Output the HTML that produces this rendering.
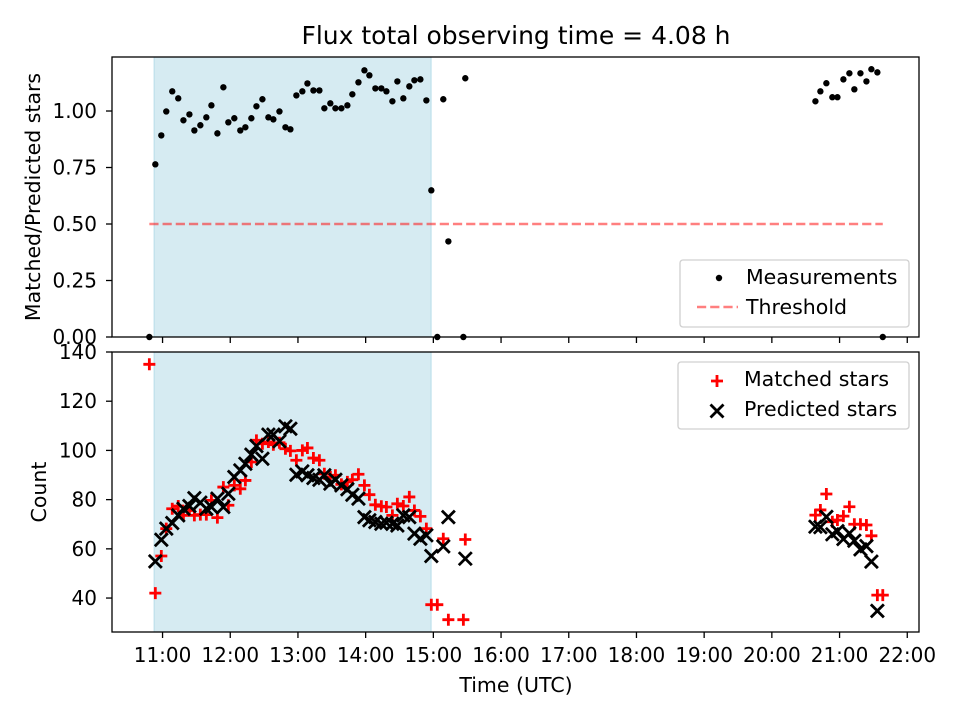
<!DOCTYPE html>
<html><head><meta charset="utf-8"><style>
body{margin:0;background:#fff}
svg{display:block;font-family:"DejaVu Sans","Liberation Sans",sans-serif}
</style></head><body>
<svg id="c" width="960" height="720" viewBox="0 0 960 720">
<rect width="960" height="720" fill="#fff"/>
<text x="516" y="44" font-size="25" text-anchor="middle">Flux total observing time = 4.08 h</text>
<g id="topPanel"></g>
<g id="botPanel"></g>
<text x="516" y="692" font-size="20.5" text-anchor="middle">Time (UTC)</text>
<text transform="translate(40,197) rotate(-90)" font-size="20.5" text-anchor="middle">Matched/Predicted stars</text>
<text transform="translate(46,492) rotate(-90)" font-size="20.5" text-anchor="middle">Count</text>
</svg>
<script>
// times in minutes since 10:00 UTC
const times=[48.3,53.6,58.9,63.3,68.6,73.9,78.5,83.8,88.2,93.5,98.8,103.3,108.6,113.9,118.3,123.6,128.9,133.4,138.7,143.2,148.5,153.8,158.2,163.6,168.9,173.3,178.6,183.9,188.4,193.7,199,203.4,208.7,213.2,218.5,223.8,228.2,233.6,238.9,243.3,248.6,253.9,258.4,263.7,268.1,273.4,278.7,283.2,288.5,293.8,298.2,303.5,308.8,313.3,326.6,328.3,
638.6,643,648.3,653.6,658.1,663.4,668.7,673.1,678.5,683.8,688.2,693.5,698.3];
const ratio=[0,0.764,0.892,0.998,1.087,1.056,0.959,0.985,0.914,0.937,0.972,1.025,0.901,1.105,0.950,0.968,0.914,0.928,0.968,1.021,1.052,0.972,0.963,0.998,0.928,0.919,1.069,1.087,1.122,1.091,1.091,1.012,1.034,1.012,1.012,1.025,1.074,1.127,1.180,1.158,1.100,1.100,1.087,1.043,1.131,1.056,1.109,1.136,1.140,1.047,0.649,0,1.052,0.423,0,1.145,
1.043,1.087,1.123,1.061,1.061,1.140,1.167,1.096,1.167,1.131,1.185,1.171,0];
const matched=[135,42,57.1,68.2,76.3,77.4,73.6,75.6,73.6,73.9,73.9,79.7,72.7,85.1,77.7,85.8,84.4,87.8,95.3,104.1,102.7,103.4,102.3,103.1,100.7,99.8,96,100,101,96.9,96,90.5,89.2,89.9,86.2,87.2,88.1,90.3,85.8,82,77.9,77.3,77,73.6,78.3,77.4,81.1,75.6,73.2,68.2,37.3,37.3,64.1,31.2,31.2,63.8,
73.7,75.8,82.3,71,71.7,73.3,77.1,70,70,69.7,65.3,41.2,41.2];
const predicted=[null,54.9,63.7,68.2,70.5,73.6,76.3,77.4,80.6,78.8,76.3,77,80.4,77,82.4,89.2,91.9,94.6,98.3,101.8,96.6,106.4,106.4,103.7,109.8,108.8,90.1,91.5,89.9,88.8,88.1,89.9,86.5,88.1,85.8,84.2,82,80.4,72.9,71.6,70.9,70.2,70.6,70.2,69.5,73.6,72.9,66.2,64.1,65.5,57.1,null,61,72.9,null,56,
69,68.8,73,65.9,67.2,64,66.3,63.3,59.8,61.1,54.8,34.8,null];
const threshold=0.5;
const spanStart=52.5, spanEnd=298.0;
const xTickLabels=["11:00","12:00","13:00","14:00","15:00","16:00","17:00","18:00","19:00","20:00","21:00","22:00"];
const topTicks=[0,0.25,0.5,0.75,1.0];
const botTicks=[40,60,80,100,120,140];

const NS="http://www.w3.org/2000/svg";
const L=112,R=919,T1=57,B1=337,T2=352,B2=632;
const xmin=15.2,xmax=730.4;
const X=m=>L+(m-xmin)/(xmax-xmin)*(R-L);
const Y1=v=>B1-(v/1.239)*(B1-T1);
const Y2=v=>B2-((v-26.2)/(140-26.2))*(B2-T2);
function mk(p,tag,at,txt){const e=document.createElementNS(NS,tag);for(const k in at)e.setAttribute(k,at[k]);if(txt!=null)e.textContent=txt;p.appendChild(e);return e;}
const topG=document.getElementById('topPanel'),botG=document.getElementById('botPanel');

function panel(g,T,B,Y,ticks,fmt,showX){
  const s=mk(g,'rect',{x:X(spanStart),y:T,width:X(spanEnd)-X(spanStart),height:B-T,fill:'#add8e6','fill-opacity':0.5,stroke:'#add8e6','stroke-opacity':0.8});
  
  
  ticks.forEach(v=>{
    mk(g,'line',{x1:L-6,x2:L,y1:Y(v),y2:Y(v),stroke:'#000','stroke-width':1.3});
    const t=mk(g,'text',{x:L-15,y:Y(v)+7,'font-size':20,'text-anchor':'end'},fmt(v));
    
    
  });
  xTickLabels.forEach((lab,i)=>{
    const x=X(60+i*60);
    mk(g,'line',{x1:x,x2:x,y1:B,y2:B+6,stroke:'#000','stroke-width':1.3});
    if(showX){const t=mk(g,'text',{x:x,y:B+30,'font-size':20,'text-anchor':'middle'},lab);
      
      }
  });
}
panel(topG,T1,B1,Y1,topTicks,v=>v.toFixed(2),false);
panel(botG,T2,B2,Y2,botTicks,v=>String(v),true);

const th=mk(topG,'line',{x1:X(times[0]),x2:X(times[times.length-1]),y1:Y1(threshold),y2:Y1(threshold),stroke:'#ff0000','stroke-opacity':0.5,'stroke-width':2.5,'stroke-dasharray':'9.2,4'});


times.forEach((t,i)=>{
  const c=mk(topG,'circle',{cx:X(t),cy:Y1(ratio[i]),r:3.2,fill:'#000'});
  
  
});
times.forEach((t,i)=>{
  const x=X(t);
  if(matched[i]!=null){const y=Y2(matched[i]);
    const p=mk(botG,'path',{d:`M${x-6},${y}H${x+6}M${x},${y-6}V${y+6}`,stroke:'#ff0000','stroke-width':2.8});
    
    }
});
times.forEach((t,i)=>{
  const x=X(t);
  if(predicted[i]!=null){const y=Y2(predicted[i]);
    const p=mk(botG,'path',{d:`M${x-6.5},${y-6.5}L${x+6.5},${y+6.5}M${x-6.5},${y+6.5}L${x+6.5},${y-6.5}`,stroke:'#000','stroke-width':2.8});
    
    }
});
[[topG,T1,B1],[botG,T2,B2]].forEach(([g,T,B])=>{
  const f=mk(g,'rect',{x:L,y:T,width:R-L,height:B-T,fill:'none',stroke:'#000','stroke-width':1.3});
  
  
});
function legend(g,x,y,w,h,items){
  const lg=mk(g,'g',{});
  
  
  mk(lg,'rect',{x:x,y:y,width:w,height:h,rx:3,fill:'#fff','fill-opacity':0.8,stroke:'#d0d0d0','stroke-width':1.3});
  items.forEach((it,i)=>{
    const yy=y+17+i*30;
    const e=mk(lg,'g',{});
    
    
    it.draw(e,x+37,yy);
    mk(e,'text',{x:x+66,y:yy+7,'font-size':20.5},it.label);
  });
}
legend(topG,680,260,229,67,[
 {label:'Measurements',draw:(e,cx,cy)=>mk(e,'circle',{cx:cx+2,cy:cy+1,r:3.2,fill:'#000'})},
 {label:'Threshold',draw:(e,cx,cy)=>mk(e,'line',{x1:cx-20,x2:cx+21,y1:cy,y2:cy,stroke:'#ff0000','stroke-opacity':0.5,'stroke-width':2.5,'stroke-dasharray':'9.2,4'})}
]);
legend(botG,678,362,231,67,[
 {label:'Matched stars',draw:(e,cx,cy)=>mk(e,'path',{d:`M${cx-4},${cy+2}H${cx+8}M${cx+2},${cy-4}V${cy+8}`,stroke:'#ff0000','stroke-width':2.8})},
 {label:'Predicted stars',draw:(e,cx,cy)=>mk(e,'path',{d:`M${cx-4.5},${cy-4.5}L${cx+8.5},${cy+8.5}M${cx-4.5},${cy+8.5}L${cx+8.5},${cy-4.5}`,stroke:'#000','stroke-width':2.8})}
]);
</script>
</body></html>
